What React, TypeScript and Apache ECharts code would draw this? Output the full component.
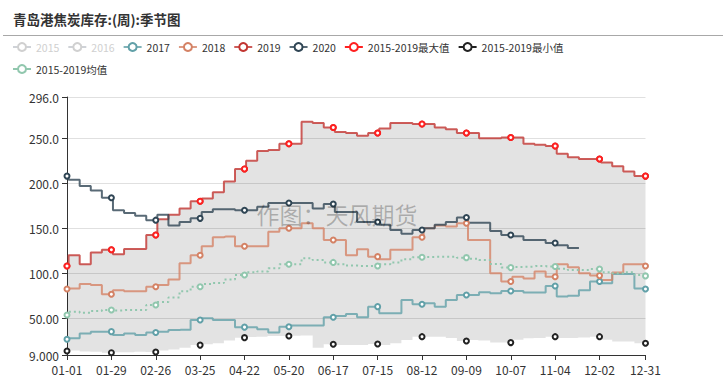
import React, { useEffect, useRef } from 'react';
import * as echarts from 'echarts';

// Category axis: every day of a leap year (2020), MM-DD
const MONTH_DAYS = [31, 29, 31, 30, 31, 30, 31, 31, 30, 31, 30, 31];
const categories: string[] = [];
MONTH_DAYS.forEach((n, m) => {
  for (let d = 1; d <= n; d++) {
    categories.push(`${String(m + 1).padStart(2, '0')}-${String(d).padStart(2, '0')}`);
  }
});

// Weekly readings (index k holds days 7k-6 .. 7k; index 0 = 01-01, index 53 = 12-31)
const y2015: number[] = [];
const y2016: number[] = [];
const y2017 = [26.5, 27.6, 33, 35, 35, 31.3, 33, 31.3, 34, 35,
  36.9, 37, 48, 49.8, 48, 48, 40, 40, 37.6, 34,
  40.5, 41.7, 41.7, 41.7, 51, 52.4, 54.7, 51, 62.8, 55.4,
  55.4, 70.3, 65.5, 66.5, 62.8, 70.3, 75.8, 75.8, 78.8, 77.6,
  80.2, 80.2, 78.4, 78.4, 85.8, 74, 75, 81, 90.7, 88.8,
  99, 99, 83, 82.5];
const y2018 = [82.5, 83, 88, 87, 76.5, 81, 80, 80, 85, 87,
  93, 111, 120, 130, 140, 140.7, 130, 130, 130, 146,
  150, 150, 155.5, 150, 137, 137, 120, 126.6, 118.4, 115.5,
  126, 126, 140, 150, 153, 152, 155.5, 137, 137, 100,
  90.7, 96, 94, 102, 96, 110, 106.6, 100, 97.3, 92.5,
  100.7, 110, 110, 108];
const y2019 = [108, 120, 110, 123, 126, 121, 127, 127, 142.5, 160,
  165, 172, 180, 183, 190, 202, 216, 225, 236, 237,
  244, 244, 268.5, 267, 262, 257, 256, 253, 256, 261,
  267, 267, 266, 266, 262, 260, 256, 256, 250, 250,
  251, 251, 244, 243, 241.5, 233, 229, 227, 227, 223,
  219, 213, 208, 208];
const y2020 = [208, 204, 197, 192, 184, 170, 167, 164, 159, 165,
  153, 157, 161, 168, 171, 171, 170, 170, 174, 178,
  178, 178, 178, 172, 177, 168, 168, 157, 157, 154,
  148, 144, 148, 150, 154, 157, 162, 156, 156, 147,
  142.5, 141, 137, 137, 133.5, 131, 128];
const max1519 = [108, 120, 110, 123, 126, 121, 127, 127, 142.5, 160,
  165, 172, 180, 183, 190, 202, 216, 225, 236, 237,
  244, 244, 268.5, 267, 262, 257, 256, 253, 256, 261,
  267, 267, 266, 266, 262, 260, 256, 256, 250, 250,
  251, 251, 244, 243, 241.5, 233, 229, 227, 227, 223,
  219, 213, 208, 208];
const min1519 = [13.5, 14, 13, 12.5, 11.6, 12, 12, 12.5, 12.4, 14,
  15, 17, 20, 21, 22, 25, 28.3, 29, 29.4, 30,
  30.2, 30.5, 30.6, 17, 21, 20, 20, 20, 21.3, 20,
  22, 25.7, 29.4, 29.4, 29.4, 28, 24.6, 25.7, 25, 23,
  22.8, 26, 27.7, 28, 29.4, 28, 28, 28.5, 29.4, 26,
  24, 24, 22, 22];
const mean1519 = [53.5, 57, 56, 58, 59, 58.4, 59, 59, 64.7, 68,
  73, 80, 85, 88, 89, 93, 98, 101, 102, 105.5,
  110, 110, 116.6, 114.7, 112, 110, 108.5, 108, 108, 110,
  112, 115.5, 117.7, 118, 118.4, 118.4, 117.3, 116, 114.7, 110.3,
  106.2, 107, 107.3, 108, 107.5, 105, 103.6, 103.6, 104.6, 101,
  100, 101, 98, 97];

const Y_MIN = 9;
const Y_MAX = 296;

// weekly values held through each day of their week
const expand = (weekly: number[]) =>
  categories.map((_, d) => {
    const k = Math.ceil(d / 7);
    return k < weekly.length ? weekly[k] : null;
  });

const FONT = "'Noto Sans CJK SC', 'Noto Sans', sans-serif";
const showLabel = (i: number) => (i % 28 === 0 && i < 364) || i === 365;

const C2017 = '#61a0a8';
const C2018 = '#d48265';
const C2019 = '#c23531';
const C2020 = '#2f4554';
const CMAX = '#ff2020';
const CMIN = '#222222';
const CMEAN = '#91c7ae';

function buildOption() {
  const base = {
    type: 'line',
    step: 'end',
    symbol: 'emptyCircle',
    symbolSize: 5,
    showAllSymbol: 'auto',
    itemStyle: { borderWidth: 1.5 },
  };
  const band = max1519.map((v, i) => v - min1519[i]);
  return {
    animation: false,
    textStyle: { fontFamily: FONT },
    title: {
      text: '青岛港焦炭库存:(周):季节图',
      left: 8,
      top: 7,
      textStyle: { fontSize: 13.5, fontWeight: 'bold', color: '#333', fontFamily: FONT },
    },
    graphic: [
      { type: 'line', shape: { x1: 3, y1: 35.5, x2: 723, y2: 35.5 }, style: { stroke: '#a8a8a8', lineWidth: 1 }, silent: true },
      {
        type: 'text', x: 337, y: 214, z: 100, silent: true,
        style: { text: '作图：天风期货', fontSize: 23, fill: 'rgba(0,0,0,0.25)', align: 'center', verticalAlign: 'middle', fontFamily: FONT },
      },
    ],
    legend: {
      left: 7,
      top: 35,
      width: 600,
      itemWidth: 18,
      itemHeight: 10,
      itemGap: 8,
      inactiveColor: '#d0d0d0',
      textStyle: { fontSize: 10.5, lineHeight: 14, color: '#333', fontFamily: FONT },
      selected: { '2015': false, '2016': false },
      data: [
        '2015', '2016', '2017', '2018', '2019', '2020',
        { name: '2015-2019最大值', lineStyle: { width: 2, opacity: 1 } },
        { name: '2015-2019最小值', lineStyle: { width: 2, opacity: 1 } },
        { name: '2015-2019均值', lineStyle: { type: 'solid' } },
      ],
    },
    grid: { left: 67, right: 77.5, top: 97, bottom: 25 },
    xAxis: {
      type: 'category',
      boundaryGap: false,
      data: categories,
      axisLine: { lineStyle: { color: '#333' } },
      axisTick: { interval: showLabel, lineStyle: { color: '#333' } },
      axisLabel: { interval: showLabel, color: '#333', fontSize: 12, fontFamily: FONT },
      splitLine: { show: false },
    },
    yAxis: {
      type: 'value',
      min: Y_MIN,
      max: Y_MAX,
      axisLine: { show: true, lineStyle: { color: '#333' } },
      axisTick: { show: true, lineStyle: { color: '#333' } },
      axisLabel: { color: '#333', fontSize: 12, fontFamily: FONT, formatter: (v: number) => v.toPrecision(4) },
      splitLine: { lineStyle: { color: '#e0e0e0' } },
    },
    series: [
      { ...base, name: '2015', data: y2015, color: '#cccccc' },
      { ...base, name: '2016', data: y2016, color: '#cccccc' },
      {
        ...base, name: '2015-2019最小值', data: expand(min1519), stack: 'mm', z: 4,
        color: CMIN, lineStyle: { width: 2, opacity: 0 },
      },
      {
        type: 'line', name: '__band', data: expand(band), stack: 'mm', step: 'end', z: 1,
        showSymbol: false, silent: true, lineStyle: { width: 0, opacity: 0 },
        areaStyle: { color: '#000', opacity: 0.11 },
      },
      { ...base, name: '2017', data: expand(y2017), color: C2017, lineStyle: { width: 2, opacity: 0.8 } },
      { ...base, name: '2018', data: expand(y2018), color: C2018, lineStyle: { width: 2, opacity: 0.8 } },
      { ...base, name: '2019', data: expand(y2019), color: C2019, lineStyle: { width: 2, opacity: 0.8 } },
      { ...base, name: '2020', data: expand(y2020), color: C2020, lineStyle: { width: 2, opacity: 0.8 } },
      { ...base, name: '2015-2019均值', data: expand(mean1519), color: CMEAN, lineStyle: { width: 2, type: [2, 3] } },
      {
        ...base, name: '2015-2019最大值', data: expand(max1519), z: 4,
        color: CMAX, lineStyle: { width: 2, opacity: 0 },
      },
    ],
  };
}

export default function App() {
  const ref = useRef<HTMLDivElement>(null);
  useEffect(() => {
    if (!ref.current) return;
    const chart = echarts.init(ref.current, undefined, { renderer: 'svg' });
    chart.setOption(buildOption() as any);
    return () => chart.dispose();
  }, []);
  return <div ref={ref} style={{ position: 'absolute', left: 0, top: 0, width: 723, height: 380 }} />;
}
